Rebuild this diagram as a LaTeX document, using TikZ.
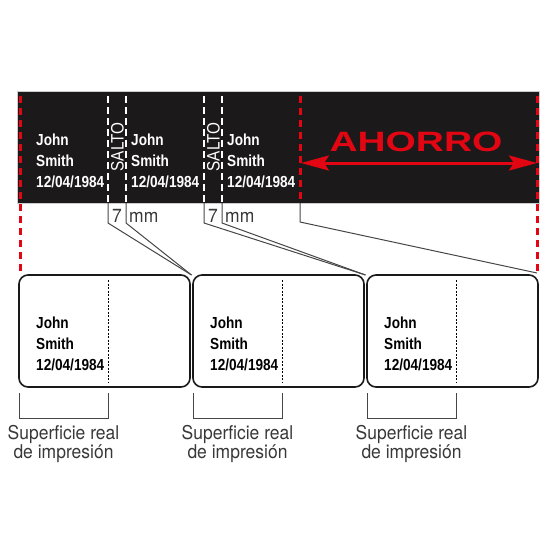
\documentclass[tikz,border=0pt]{standalone}
\usepackage{fontspec}
\setmainfont{Liberation Sans}
\newfontfamily\boldcn{Liberation Sans}[FakeStretch=0.85]
\newfontfamily\lightcn{TeX Gyre Heros}[FakeStretch=0.92]
\newfontfamily\widebold{Liberation Sans}[FakeStretch=1.39]
\usepackage{tikz}
\usetikzlibrary{arrows.meta}
\usetikzlibrary{positioning, calc}

\definecolor{bandblack}{RGB}{28,25,26}
\definecolor{cutred}{RGB}{226,6,19}
\definecolor{leadgray}{RGB}{70,70,70}

\begin{document}
\begin{tikzpicture}[x=1pt,y=-1pt,
  bandtxt/.style={anchor=base west,inner sep=0,text=white,font=\boldcn\bfseries\fontsize{16}{19}\selectfont},
  labtxt/.style={anchor=base west,inner sep=0,text=black,font=\boldcn\bfseries\fontsize{16}{19}\selectfont},
  salto/.style={rotate=90,inner sep=0,text=white,font=\boldcn\fontsize{18}{20}\selectfont},
  thintxt/.style={inner sep=0,text=leadgray!80!black,font=\lightcn\fontsize{19}{17}\selectfont},
  labelbox/.style={rectangle,draw=black!90,line width=1.6pt,rounded corners=9pt,
    minimum width=171pt,minimum height=112pt,outer sep=0,inner sep=0},
  cutline/.style={white,line width=2pt,dash pattern=on 7pt off 4pt},
  redcut/.style={cutred,line width=3pt,dash pattern=on 7pt off 5pt},
  leader/.style={leadgray,line width=1pt},
  dotline/.style={black,line width=1pt,dash pattern=on 2pt off 1.5pt}]
  \useasboundingbox (0,0) rectangle (550,550);

  % black strip
  \fill[bandblack,draw=gray!40,line width=0.6pt] (17,91) rectangle (539,203);

  % cut marks
  \foreach \x/\n in {108/c1,126/c2,204/c3,222/c4} {
    \coordinate (\n top) at (\x,96);
    \coordinate (\n bot) at (\x,203);
    \draw[cutline] (\n top) -- (\n bot);
  }
  \coordinate (r1top) at (20,96);   \coordinate (r1bot) at (20,273);
  \coordinate (r2top) at (300,96);  \coordinate (r2bot) at (300,203);
  \coordinate (r3top) at (537,96);  \coordinate (r3bot) at (537,273);
  \draw[redcut] (r1top) -- (r1bot);
  \draw[redcut] (r2top) -- (r2bot);
  \draw[redcut] (r3top) -- (r3bot);

  \node[salto] (salto1) at (117.5,147) {SALTO};
  \node[salto] (salto2) at (213.5,147) {SALTO};

  \foreach \x [count=\i] in {36,131,227} {
    \node[bandtxt] (john\i) at (\x,145) {John};
    \node[bandtxt] (smith\i) at (\x,166) {Smith};
    \node[bandtxt] (date\i) at (\x,187) {12/04/1984};
  }

  % saving
  \node[text=cutred,inner sep=0,font=\widebold\bfseries\fontsize{28}{30}\selectfont] (ahorro) at (416,142) {AHORRO};
  \coordinate (al) at (301,163);
  \coordinate (ar) at (537,163);
  \draw[cutred,line width=3pt,{Stealth[length=28pt 0,width=15pt 0,inset=5pt 0]}-{Stealth[length=28pt 0,width=15pt 0,inset=5pt 0]}] (al) -- (ar);

  % labels
  \node[labelbox] (lab1) at (104.5,331) {};
  \node[labelbox, right=3pt of lab1] (lab2) {};
  \node[labelbox, right=3pt of lab2] (lab3) {};
  \coordinate (j12) at ($(lab1.north east)!0.5!(lab2.north west)$);
  \coordinate (j23) at ($(lab2.north east)!0.5!(lab3.north west)$);

  \draw[leader] (c1bot) -- ++(0,20) -- (j12);
  \draw[leader] (c2bot) -- ++(0,20) -- (j12);
  \draw[leader] (c3bot) -- ++(0,20) -- (j23);
  \draw[leader] (c4bot) -- ++(0,20) -- (j23);
  \draw[leader] (r2bot) -- ++(0,19) -- (r3bot);

  \node[thintxt,anchor=base] (seven1) at (117,222) {7};
  \node[thintxt,anchor=base west] (mm1) at (129,222) {mm};
  \node[thintxt,anchor=base] (seven2) at (213,222) {7};
  \node[thintxt,anchor=base west] (mm2) at (225,222) {mm};

  \foreach \i in {1,2,3} {
    \draw[dotline] ($(lab\i.north west)+(89,5)$) -- ($(lab\i.south west)+(89,-4)$);
    \node[labtxt] (ljohn\i) at ($(lab\i.north west)+(17,53)$) {John};
    \node[labtxt] (lsmith\i) at ($(lab\i.north west)+(17,74)$) {Smith};
    \node[labtxt] (ldate\i) at ($(lab\i.north west)+(17,95)$) {12/04/1984};
    \draw[leader] ($(lab\i.south west)+(0,6)$) coordinate (b\i l) -- ++(0,25)
      -| ($(lab\i.south west)+(89,6)$) coordinate (b\i r);
    \node[thintxt,anchor=base] (cap\i a) at ($(b\i l)!0.5!(b\i r)+(0,46)$) {Superficie real};
    \node[thintxt,anchor=base] (cap\i b) at ($(b\i l)!0.5!(b\i r)+(0,65)$) {de impresión};
  }
\end{tikzpicture}
\end{document}
